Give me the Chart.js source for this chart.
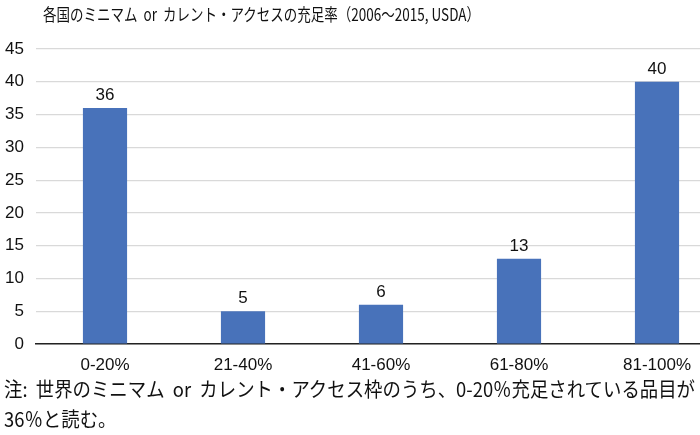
<!DOCTYPE html>
<html lang="ja">
<head>
  <meta charset="UTF-8">
  <title>充足率</title>
  <script src="https://cdn.jsdelivr.net/npm/chart.js@4.4.1/dist/chart.umd.min.js"></script>
  <style>
    html, body { margin: 0; padding: 0; background: #fff; overflow: hidden; width: 700px; height: 435px; }
    #wrap { position: relative; width: 700px; height: 435px; overflow: hidden; }
    #title {
      position: absolute; left: 43px; top: 1px; white-space: pre;
      font-family: "Noto Sans CJK JP", sans-serif; font-size: 17px; color: #111;
      transform-origin: left top;
    }
    #box { position: absolute; left: 0; top: 0; width: 730px; height: 380px; }
    #note {
      position: absolute; left: 4px; top: 374px;
      font-family: "Noto Sans CJK JP", sans-serif; font-size: 20px; line-height: 30px; color: #111;
      white-space: pre; transform-origin: left top;
    }
  </style>
</head>
<body>
<div id="wrap">
  <div id="box"><canvas id="chart"></canvas></div>
  <div id="title">各国のミニマム  or  カレント・アクセスの充足率（2006～2015, USDA）</div>
  <div id="note"><span id="line1">注:  世界のミニマム  or  カレント・アクセス枠のうち、0-20％充足されている品目が</span><br>36％と読む。</div>
</div>
<script>
  const categories = ['0-20%', '21-40%', '41-60%', '61-80%', '81-100%'];
  const shares = [36, 5, 6, 13, 40];
  const yTicks = [0, 5, 10, 15, 20, 25, 30, 35, 40, 45];

  // squeeze the texts to the width they take in the picture
  function squeeze(el, measureEl, width) {
    const w = measureEl.getBoundingClientRect().width;
    el.style.transform = 'scaleX(' + (width / w) + ')';
  }
  squeeze(document.getElementById('title'), document.getElementById('title'), 437);
  squeeze(document.getElementById('note'), document.getElementById('line1'), 691);

  // numbers above each bar
  const valueLabels = {
    id: 'valueLabels',
    afterDatasetsDraw(chart) {
      const ctx = chart.ctx;
      const meta = chart.getDatasetMeta(0);
      ctx.save();
      ctx.font = '17px "Liberation Sans", Arial, sans-serif';
      ctx.fillStyle = '#111';
      ctx.textAlign = 'center';
      ctx.textBaseline = 'bottom';
      meta.data.forEach((bar, i) => {
        ctx.fillText(String(shares[i]), bar.x, bar.y - 4);
      });
      ctx.restore();
    }
  };

  new Chart(document.getElementById('chart'), {
    type: 'bar',
    data: {
      labels: categories,
      datasets: [{
        data: shares,
        backgroundColor: '#4872BA',
        borderWidth: 0,
        barPercentage: 0.32,
        categoryPercentage: 1
      }]
    },
    options: {
      responsive: true,
      maintainAspectRatio: false,
      animation: false,
      layout: { padding: { top: 49, right: 4, bottom: 0, left: 0 } },
      plugins: { legend: { display: false }, tooltip: { enabled: false } },
      scales: {
        x: {
          grid: { display: false },
          border: { display: true, color: '#222', width: 1.5 },
          ticks: {
            color: '#111', padding: 3,
            font: { family: '"Liberation Sans", Arial, sans-serif', size: 17 }
          },
          afterFit(scale) { scale.height = 36; }
        },
        y: {
          min: 0, max: 45,
          afterBuildTicks(scale) { scale.ticks = yTicks.map(v => ({ value: v })); },
          grid: { color: '#d9d9d9', lineWidth: 1.2, drawTicks: false },
          border: { display: false },
          ticks: {
            color: '#111', padding: 12,
            font: { family: '"Liberation Sans", Arial, sans-serif', size: 17 }
          },
          afterFit(scale) { scale.width = 36; }
        }
      }
    },
    plugins: [valueLabels]
  });
</script>
</body>
</html>
